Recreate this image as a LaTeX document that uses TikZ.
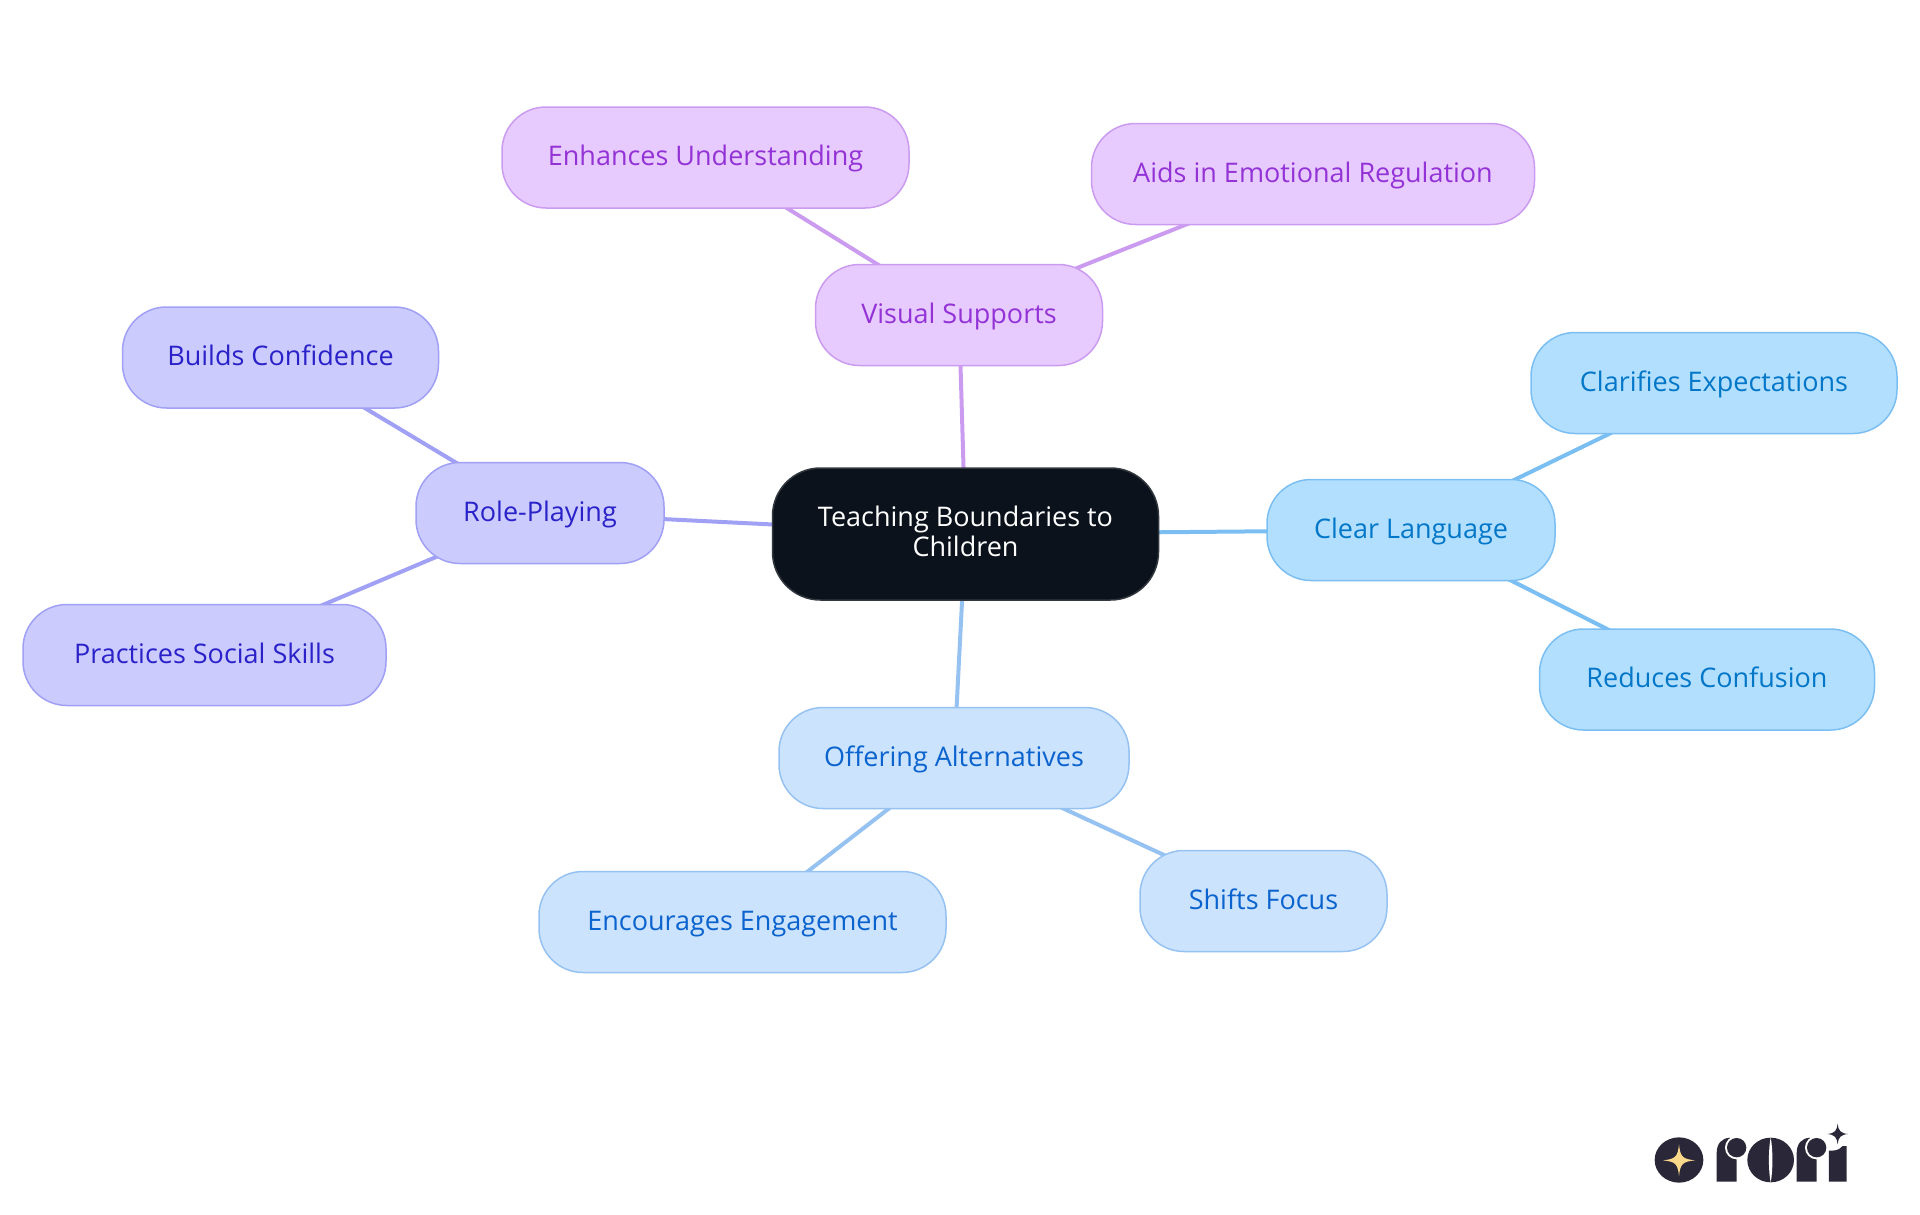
\documentclass[tikz,border=0pt]{standalone}
\usepackage{fontspec}
\setmainfont{Open Sans}
\usetikzlibrary{backgrounds}
\tikzset{
  mapnode/.style = {align=center, inner sep=0pt, text centered, draw,
    rounded corners=44pt, minimum height=101pt, line width=1.5pt,
    font=\fontsize{27}{30}\selectfont},
  leafnode/.style = {mapnode, text height=21pt, text depth=5pt},
  centernode/.style = {mapnode, fill=rootfill, draw=rootline, text=white,
    rounded corners=48pt, text height=51pt, text depth=5.6pt},
  visualnode/.style = {leafnode, fill=visualfill, draw=visualline, text=visualtext},
  rolenode/.style = {leafnode, fill=rolefill, draw=roleline, text=roletext},
  clearnode/.style = {leafnode, fill=clearfill, draw=clearline, text=cleartext},
  offernode/.style = {leafnode, fill=offerfill, draw=offerline, text=offertext},
  link/.style = {line width=4pt}
}
\definecolor{rootfill}{HTML}{0B121B}
\definecolor{rootline}{HTML}{33383F}
\definecolor{visualfill}{HTML}{E8CBFE}
\definecolor{visualline}{HTML}{CB9BF0}
\definecolor{visualtext}{HTML}{9333D6}
\definecolor{rolefill}{HTML}{CBCBFE}
\definecolor{roleline}{HTML}{A0A0F5}
\definecolor{roletext}{HTML}{2A22C8}
\definecolor{clearfill}{HTML}{B3DFFE}
\definecolor{clearline}{HTML}{7BBFF2}
\definecolor{cleartext}{HTML}{0277C8}
\definecolor{offerfill}{HTML}{CCE3FD}
\definecolor{offerline}{HTML}{96C2F2}
\definecolor{offertext}{HTML}{0B63CE}
\definecolor{logodark}{HTML}{2A2838}
\definecolor{logostar}{HTML}{FBD88A}
\begin{document}
\begin{tikzpicture}[x=1pt, y=-1pt]
    \useasboundingbox (0,0) rectangle (1920,1215);
    % center
    \node [centernode, minimum width=386pt, minimum height=132pt] (root) at (965.5,534) {Teaching Boundaries to\\Children};
    % visual supports
    \node [visualnode, minimum width=287pt] (visual) at (959,315) {Visual Supports};
    \node [visualnode, minimum width=407pt] (enhances) at (705.5,157.5) {Enhances Understanding};
    \node [visualnode, minimum width=443pt] (aids) at (1313,174) {Aids in Emotional Regulation};
    % role playing
    \node [rolenode, minimum width=248pt] (role) at (540,513) {Role-Playing};
    \node [rolenode, minimum width=316pt] (builds) at (280.5,357.5) {Builds Confidence};
    \node [rolenode, minimum width=363pt] (practices) at (204.5,655) {Practices Social Skills};
    % clear language
    \node [clearnode, minimum width=288pt] (clear) at (1411,530) {Clear Language};
    \node [clearnode, minimum width=366pt] (clarifies) at (1714,383) {Clarifies Expectations};
    \node [clearnode, minimum width=335pt] (reduces) at (1707,679.5) {Reduces Confusion};
    % offering alternatives
    \node [offernode, minimum width=350pt] (offer) at (954,758) {Offering Alternatives};
    \node [offernode, minimum width=407pt] (encourages) at (742.5,922) {Encourages Engagement};
    \node [offernode, minimum width=247pt] (shifts) at (1263.5,901) {Shifts Focus};
    % links
    \begin{pgfonlayer}{background}
        \draw [link, visualline] (root.center) -- (visual.center);
        \draw [link, visualline] (visual.center) -- (enhances.center);
        \draw [link, visualline] (visual.center) -- (aids.center);
        \draw [link, roleline] (root.center) -- (role.center);
        \draw [link, roleline] (role.center) -- (builds.center);
        \draw [link, roleline] (role.center) -- (practices.center);
        \draw [link, clearline] (root.center) -- (clear.center);
        \draw [link, clearline] (clear.center) -- (clarifies.center);
        \draw [link, clearline] (clear.center) -- (reduces.center);
        \draw [link, offerline] (root.center) -- (offer.center);
        \draw [link, offerline] (offer.center) -- (encourages.center);
        \draw [link, offerline] (offer.center) -- (shifts.center);
    \end{pgfonlayer}
    % logo
    \begin{scope}[shift={(1620,1100)}, x=0.3333pt, y=-0.3333pt]
        \fill [logodark] (177,180) circle [x radius=73, y radius=68];
        \fill [logostar] (177,133) .. controls (181,170) and (187,177) .. (225,181) .. controls (187,185) and (181,192) .. (177,228) .. controls (173,192) and (167,185) .. (129,181) .. controls (167,177) and (173,170) .. (177,133) -- cycle;
        \foreach \dx in {0,240} {
            \fill [logodark, xshift=\dx*0.3333pt] (290,245) -- (290,160) .. controls (290,130) and (305,115) .. (330,113) -- (350,140) -- (350,245) -- cycle;
            \fill [white, xshift=\dx*0.3333pt] (350,143) circle [radius=35];
            \fill [logodark, xshift=\dx*0.3333pt] (350,143) circle [radius=29];
        }
        \fill [logodark] (452,180) circle [x radius=70, y radius=67];
        \fill [white] (452,112) .. controls (445,150) and (445,210) .. (452,248) .. controls (459,210) and (459,150) .. (452,112) -- cycle;
        \fill [logodark] (627,245) -- (627,152) .. controls (645,152) and (655,152) .. (668,138) -- (680,138) -- (680,245) -- cycle;
        \fill [logodark] (653,71) .. controls (655,92) and (662,100) .. (684,102) .. controls (662,104) and (655,112) .. (653,133) .. controls (651,112) and (644,104) .. (622,102) .. controls (644,100) and (651,92) .. (653,71) -- cycle;
    \end{scope}
\end{tikzpicture}
\end{document}
